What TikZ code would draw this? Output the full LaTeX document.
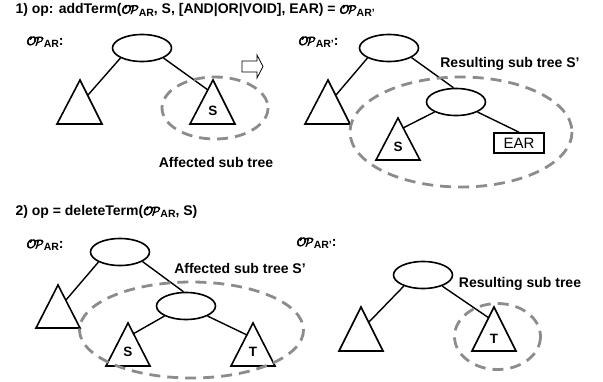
\documentclass[tikz,border=0pt]{standalone}
\usepackage{amsmath}
\usepackage{fontspec}
\setmainfont{Liberation Sans}
\usetikzlibrary{calc,shapes.geometric}

% bold script letters (stroked outline)
\newcommand{\opcal}{\fontsize{12.5}{14}\selectfont\special{pdf:code q 2 Tr 0.55 w}$\mathcal{O}\!\mathcal{P}$\special{pdf:code Q}}
\newcommand{\opname}[1]{\mbox{\opcal\raisebox{-2.5pt}{\fontsize{10.5}{12}\selectfont\bfseries #1}}}

\begin{document}
\begin{tikzpicture}[x=1pt,y=-1pt,
  every node/.style={font=\fontsize{14}{17}\selectfont\bfseries},
  opnode/.style={draw, ellipse, line width=1.6pt, minimum width=59pt, minimum height=27pt, inner sep=0pt},
  tri/.style={line width=1.6pt, line join=miter},
  link/.style={line width=1.4pt},
  subtree/.style={draw=gray!90, line width=2.8pt, dash pattern=on 11pt off 7pt},
  leaf/.style={font=\fontsize{13.5}{16}\selectfont\bfseries}]

\useasboundingbox (0,0) rectangle (603,381);

%ADD TERM
\node[anchor=base west] (title1) at (12,13.5) {1) op: addTerm(\opname{AR}, S, [AND|OR|VOID], EAR) = \opname{AR'}};

%before
\node[anchor=base west] (opl1) at (23,45) {\opname{AR}:};
\node[opnode] (r1) at (142,48) {};
\draw[tri] (80,80) coordinate (t1) -- ++(22,44) -- ++(-45,0) -- cycle;
\draw[tri] (213,80) coordinate (s1) -- ++(22,44) -- ++(-45,0) -- cycle;
\node[leaf] (s1l) at (213,111) {S};
\draw[link] (r1.205) -- ($(t1)+(8,15)$);
\draw[link] (r1.335) -- ($(s1)+(-5,10)$);
\draw[subtree] (215,108) ellipse [x radius=53, y radius=31];
\node (aff1) at (216,162) {Affected sub tree};

\draw[line width=0.8pt] (242,61) -- (257,61) -- (257,55) -- (263,66.5) -- (257,78) -- (257,72) -- (242,72) -- cycle;

%after
\node[anchor=base west] (opr1) at (295,45) {\opname{AR'}:};
\node[opnode] (r2) at (389,48) {};
\draw[tri] (328,80) coordinate (t2) -- ++(22,44) -- ++(-45,0) -- cycle;
\node[opnode] (m2) at (456,102) {};
\draw[tri] (398,118) coordinate (s2) -- ++(22,42) -- ++(-44,0) -- cycle;
\node[leaf] (s2l) at (398,147) {S};
\node[draw, line width=1.6pt, minimum width=50pt, minimum height=20pt, inner sep=0pt, font=\fontsize{15}{18}\selectfont] (ear) at (519,143) {EAR};
\draw[link] (r2.205) -- ($(t2)+(8,15)$);
\draw[link] (r2.337) -- (m2.100);
\draw[link] (m2.205) -- ($(s2)+(5,10)$);
\draw[link] (m2.335) -- (ear.north);
\draw[subtree] (461,132) ellipse [x radius=111, y radius=55];
\node (res1) at (510,64) {Resulting sub tree S'};

%DELETE TERM
\node[anchor=base west] (title2) at (12,215) {2) op = deleteTerm(\opname{AR}, S)};

%before
\node[anchor=base west] (opl2) at (23,248) {\opname{AR}:};
\node[opnode] (r3) at (120,252) {};
\draw[tri] (58,285) coordinate (t3) -- ++(22,43) -- ++(-44,0) -- cycle;
\node[opnode] (m3) at (186,306) {};
\draw[tri] (128,323) coordinate (s3) -- ++(22,43) -- ++(-44,0) -- cycle;
\draw[tri] (253,323) coordinate (u3) -- ++(22,43) -- ++(-44,0) -- cycle;
\node[leaf] (s3l) at (128,352) {S};
\node[leaf] (u3l) at (253,352) {T};
\draw[link] (r3.205) -- ($(t3)+(8,15)$);
\draw[link] (r3.337) -- (m3.100);
\draw[link] (m3.205) -- ($(s3)+(5,11)$);
\draw[link] (m3.335) -- ($(u3)+(-6,12)$);
\draw[subtree] (191.5,330) ellipse [x radius=112, y radius=48];
\node (aff2) at (240,268) {Affected sub tree S'};

%after
\node[anchor=base west] (opr2) at (293,246) {\opname{AR'}:};
\node[opnode] (r4) at (423,275) {};
\draw[tri] (361,307) coordinate (t4) -- ++(22,44) -- ++(-44,0) -- cycle;
\draw[tri] (494,307) coordinate (u4) -- ++(22,44) -- ++(-44,0) -- cycle;
\node[leaf] (u4l) at (494,339) {T};
\draw[link] (r4.210) -- ($(t4)+(8,15)$);
\draw[link] (r4.330) -- ($(u4)+(-5,11)$);
\draw[subtree] (497.5,336.5) ellipse [x radius=43, y radius=33];
\node (res2) at (520,284) {Resulting sub tree};

\end{tikzpicture}
\end{document}
